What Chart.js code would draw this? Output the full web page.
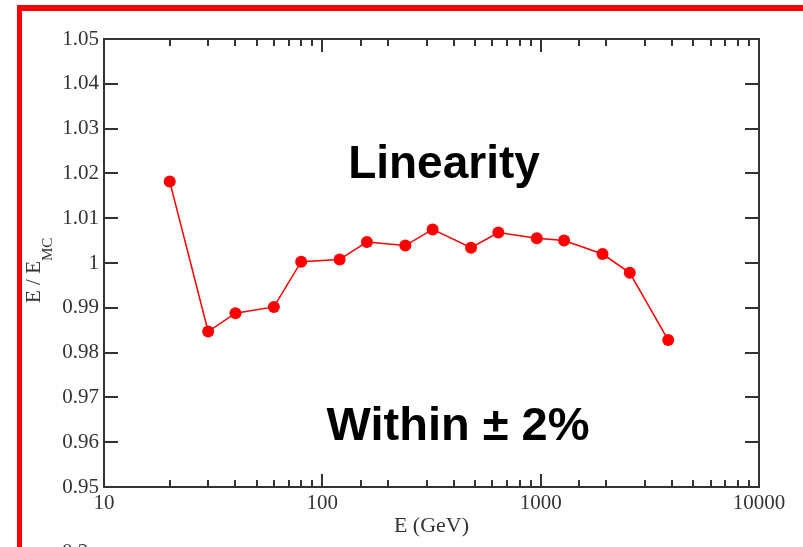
<!DOCTYPE html>
<html>
<head>
<meta charset="utf-8">
<script src="https://cdn.jsdelivr.net/npm/chart.js@4/dist/chart.umd.min.js"></script>
<style>
  html, body { margin: 0; padding: 0; background: #fff; }
  canvas { display: block; }
</style>
</head>
<body>
<canvas id="chart" width="803" height="547"></canvas>
<script>
// beam energy (GeV) and reconstructed / true energy ratio
const energies = [20, 30, 40, 60, 80, 120, 160, 240, 320, 480, 640, 960, 1280, 1920, 2560, 3840];
const ratios = [1.0182, 0.9847, 0.9888, 0.9902, 1.0003, 1.0008, 1.0047, 1.0039, 1.0075, 1.0034, 1.0068, 1.0055, 1.0050, 1.0020, 0.9978, 0.9828];

const xMin = 10, xMax = 10000;
const yMin = 0.95, yMax = 1.05, yStep = 0.01;

const serif = '"Liberation Serif", "DejaVu Serif", serif';
const sans = '"Liberation Sans", Arial, sans-serif';

// frame, inward ticks, titles and slide text
const decorations = {
    id: 'decorations',
    beforeDraw(chart) {
        const ctx = chart.ctx;
        ctx.save();
        ctx.fillStyle = '#ff0000';
        ctx.fillRect(17, 5, 803 - 17, 6);
        ctx.fillRect(17, 5, 5, 547 - 5);
        ctx.restore();
    },
    afterDraw(chart) {
        const ctx = chart.ctx;
        const { left, right, top, bottom } = chart.chartArea;
        const xs = chart.scales.x, ys = chart.scales.y;
        ctx.save();
        ctx.strokeStyle = '#333';
        ctx.lineWidth = 2;
        ctx.strokeRect(left, top, right - left, bottom - top);

        ctx.beginPath();
        xs.ticks.forEach(t => {
            const px = Math.round(xs.getPixelForValue(t.value));
            const lg = Math.log10(t.value);
            const len = Math.abs(lg - Math.round(lg)) < 1e-6 ? 13 : 7;
            ctx.moveTo(px, bottom); ctx.lineTo(px, bottom - len);
            ctx.moveTo(px, top); ctx.lineTo(px, top + len);
        });
        ys.ticks.forEach(t => {
            const py = Math.round(ys.getPixelForValue(t.value));
            ctx.moveTo(left, py); ctx.lineTo(left + 14, py);
            ctx.moveTo(right, py); ctx.lineTo(right - 14, py);
        });
        ctx.stroke();

        // axis titles
        ctx.fillStyle = '#333';
        ctx.font = '22px ' + serif;
        ctx.textAlign = 'center';
        ctx.textBaseline = 'alphabetic';
        ctx.fillText('E (GeV)', (left + right) / 2, 532);

        ctx.save();
        ctx.translate(40, 303);
        ctx.rotate(-Math.PI / 2);
        ctx.textAlign = 'left';
        ctx.font = '21px ' + serif;
        ctx.fillText('E / E', 0, 0);
        const w = ctx.measureText('E / E').width;
        ctx.font = '15px ' + serif;
        ctx.fillText('MC', w, 12);
        ctx.restore();

        // cut-off label of the next plot below
        ctx.textAlign = 'left';
        ctx.font = '21px ' + serif;
        ctx.fillText('0.2', 62, 558);

        // slide text
        ctx.fillStyle = '#000';
        ctx.textAlign = 'center';
        ctx.font = 'bold 46px ' + sans;
        ctx.fillText('Linearity', 444, 178);
        ctx.font = 'bold 47px ' + sans;
        ctx.fillText('Within \u00b1 2%', 458, 440);
        ctx.restore();
    }
};

new Chart(document.getElementById('chart'), {
    type: 'scatter',
    data: {
        datasets: [{
            data: energies.map((e, i) => ({ x: e, y: ratios[i] })),
            showLine: true,
            borderColor: '#ff0000',
            borderWidth: 1.5,
            pointRadius: 6,
            pointBackgroundColor: '#ff0000',
            pointBorderWidth: 0
        }]
    },
    options: {
        responsive: false,
        animation: false,
        layout: { padding: { left: 0, right: 44, top: 39, bottom: 0 } },
        plugins: { legend: { display: false }, tooltip: { enabled: false } },
        scales: {
            x: {
                type: 'logarithmic',
                min: xMin,
                max: xMax,
                grid: { display: false, drawTicks: false },
                border: { display: false },
                afterFit: s => { s.height = 60; },
                ticks: {
                    autoSkip: false,
                    maxRotation: 0,
                    padding: 4,
                    color: '#333',
                    font: { family: serif, size: 21 },
                    callback: v => {
                        const lg = Math.log10(v);
                        return Math.abs(lg - Math.round(lg)) < 1e-6 ? String(Math.round(v)) : '';
                    }
                }
            },
            y: {
                min: yMin,
                max: yMax,
                grid: { display: false, drawTicks: false },
                border: { display: false },
                afterFit: s => { s.width = 104; },
                ticks: {
                    stepSize: yStep,
                    padding: 5,
                    color: '#333',
                    font: { family: serif, size: 21 },
                    callback: v => String(parseFloat(v.toFixed(2)))
                }
            }
        }
    },
    plugins: [decorations]
});
</script>
</body>
</html>
